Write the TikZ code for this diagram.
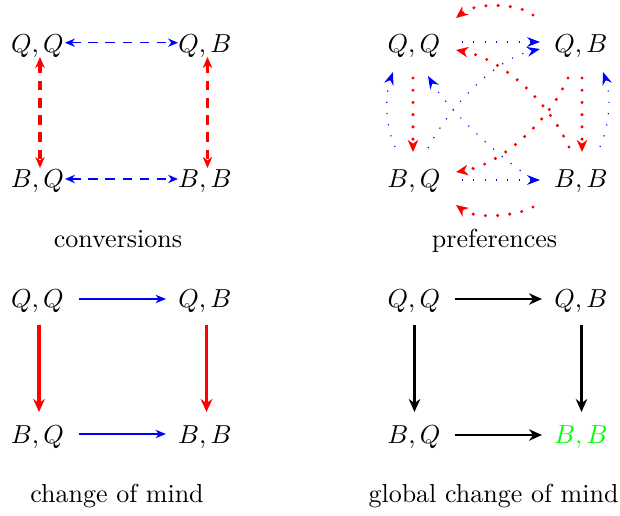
\documentclass[tikz,border=0pt]{standalone}
\usetikzlibrary{arrows.meta,calc}
\begin{document}
\begin{tikzpicture}[x=0.3846pt,y=-0.3846pt,
  lbl/.style={inner sep=0pt, anchor=base},
  bluedash/.style={blue, line width=0.6pt, dash pattern=on 3.6pt off 3pt,
    {Stealth[length=3.8pt,width=3.2pt,inset=1.2pt]}-{Stealth[length=3.8pt,width=3.2pt,inset=1.2pt]}},
  reddash/.style={red, line width=1.5pt, dash pattern=on 3.6pt off 3pt,
    {Stealth[length=4.2pt,width=3.6pt,inset=1.3pt]}-{Stealth[length=4.2pt,width=3.6pt,inset=1.3pt]}},
  reddot/.style={red, line width=1.3pt, line cap=round, dash pattern=on 0pt off 4.7pt,
    -{Stealth[length=4.6pt,width=4pt,inset=1.4pt]}},
  bluedot/.style={blue, line width=0.45pt, dash pattern=on 0.45pt off 3.9pt,
    -{Stealth[length=5pt,width=3.8pt,inset=1.7pt]}},
  bluesolid/.style={blue, line width=0.5pt, -{Stealth[length=4pt,width=3.2pt,inset=1.2pt]}},
  redsolid/.style={red, line width=1.5pt, -{Stealth[length=5pt,width=4.5pt,inset=1.6pt]}},
  blacksolid/.style={black, line width=0.8pt, -{Stealth[length=5pt,width=4.4pt,inset=1.6pt]}}]
\useasboundingbox (0,0) rectangle (620,516);

% ---------- conversions ----------
\node[lbl] (a1) at (37.5,53) {$Q,Q$};
\node[lbl] (b1) at (205,53) {$Q,B$};
\node[lbl] (c1) at (37.5,188) {$B,Q$};
\node[lbl] (d1) at (205,188) {$B,B$};
\node[lbl] (t1) at (118,247) {conversions};
\draw[bluedash] ($(a1.base)+(27.5,-10.3)$) -- ($(b1.base)+(-27,-10.3)$);
\draw[bluedash] ($(c1.base)+(27.5,-9)$) -- ($(d1.base)+(-27,-9)$);
\draw[reddash] ($(a1.base)+(2.5,4)$) -- ($(c1.base)+(2.5,-20)$);
\draw[reddash] ($(b1.base)+(2.5,4)$) -- ($(d1.base)+(2.5,-20)$);

% ---------- preferences ----------
\node[lbl] (a2) at (414,53) {$Q,Q$};
\node[lbl] (b2) at (581,53) {$Q,B$};
\node[lbl] (c2) at (414,188) {$B,Q$};
\node[lbl] (d2) at (581,188) {$B,B$};
\node[lbl] (t2) at (494.5,247) {preferences};
% red
\draw[reddot] ($(b2.base)+(-48,-38)$) .. controls +(-15,-12) and +(20,-16) .. ($(a2.base)+(42,-35)$);
\draw[reddot] ($(d2.base)+(-12,-41)$) .. controls +(-21,-47) and +(44,8) .. ($(a2.base)+(42,-3)$);
\draw[reddot] ($(b2.base)+(-13,25)$) .. controls +(-20,45) and +(44,-7) .. ($(c2.base)+(42,-16)$);
\draw[reddot] ($(a2.base)+(-1,25)$) -- ($(c2.base)+(-1,-36)$);
\draw[reddot] ($(b2.base)+(1,25)$) -- ($(d2.base)+(1,-36)$);
\draw[reddot] ($(d2.base)+(-48,19)$) .. controls +(-15,9) and +(20,15) .. ($(c2.base)+(42,17)$);
% blue
\draw[bluedot] ($(a2.base)+(48,-11)$) -- ($(b2.base)+(-41,-11)$);
\draw[bluedot] ($(c2.base)+(48,-8)$) -- ($(d2.base)+(-41,-8)$);
\draw[bluedot] ($(c2.base)+(14,-40)$) .. controls +(17,-33) and +(-50,11) .. ($(b2.base)+(-41,-4)$);
\draw[bluedot] ($(d2.base)+(-51,-11)$) .. controls +(-35,-22) and +(17,29) .. ($(a2.base)+(14,23)$);
\draw[bluedot] ($(c2.base)+(-19,-41)$) .. controls +(-10,-22) and +(-8,23) .. ($(a2.base)+(-21,19)$);
\draw[bluedot] ($(d2.base)+(19,-41)$) .. controls +(10,-22) and +(8,23) .. ($(b2.base)+(22,19)$);

% ---------- change of mind ----------
\node[lbl] (a3) at (37.5,307) {$Q,Q$};
\node[lbl] (b3) at (205,307) {$Q,B$};
\node[lbl] (c3) at (37.5,443) {$B,Q$};
\node[lbl] (d3) at (205,443) {$B,B$};
\node[lbl] (t3) at (117,502) {change of mind};
\draw[bluesolid] ($(a3.base)+(41.5,-8)$) -- ($(b3.base)+(-39,-8)$);
\draw[bluesolid] ($(c3.base)+(41.5,-9)$) -- ($(d3.base)+(-39,-9)$);
\draw[redsolid] ($(a3.base)+(1.5,18)$) -- ($(c3.base)+(1.5,-31)$);
\draw[redsolid] ($(b3.base)+(1.5,18)$) -- ($(d3.base)+(1.5,-31)$);

% ---------- global change of mind ----------
\node[lbl] (a4) at (414,307) {$Q,Q$};
\node[lbl] (b4) at (581,307) {$Q,B$};
\node[lbl] (c4) at (414,443) {$B,Q$};
\node[lbl, text=green] (d4) at (581,443) {$B,B$};
\node[lbl] (t4) at (493.5,502) {global change of mind};
\draw[blacksolid] ($(a4.base)+(41,-8)$) -- ($(b4.base)+(-39,-8)$);
\draw[blacksolid] ($(c4.base)+(41,-8)$) -- ($(d4.base)+(-39,-8)$);
\draw[blacksolid] ($(a4.base)+(0.5,18)$) -- ($(c4.base)+(0.5,-31)$);
\draw[blacksolid] ($(b4.base)+(0.5,18)$) -- ($(d4.base)+(0.5,-31)$);
\end{tikzpicture}
\end{document}
